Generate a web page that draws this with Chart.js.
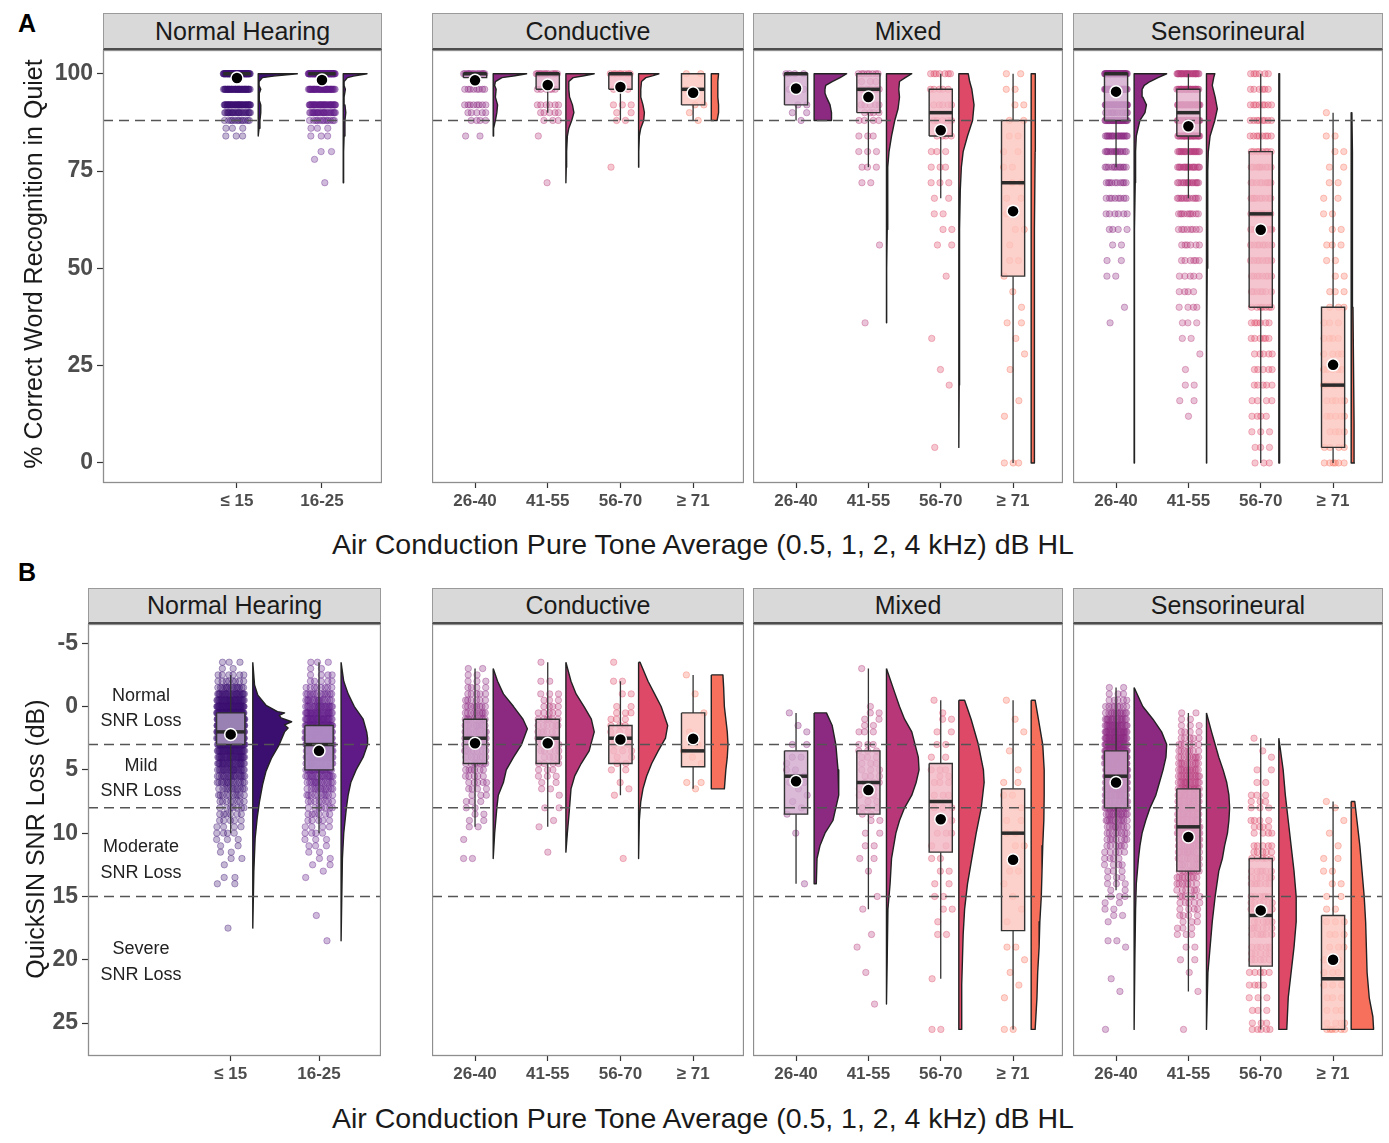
<!DOCTYPE html>
<html><head><meta charset="utf-8">
<script src="https://cdn.jsdelivr.net/npm/chart.js@4.4.0/dist/chart.umd.min.js"></script>
<style>
body{margin:0;background:#fff;width:1389px;height:1143px;position:relative;overflow:hidden;font-family:"Liberation Sans",Arial,Helvetica,sans-serif;}
canvas{position:absolute}
.t{position:absolute;white-space:nowrap;color:#1a1a1a}
.strip{position:absolute;background:#d9d9d9;border:1px solid #9a9a9a;border-bottom:2px solid #4d4d4d;box-sizing:border-box;text-align:center;font-size:25px;color:#1a1a1a}
.band{position:absolute;width:120px;text-align:center;font-size:18px;line-height:20px;color:#222}
</style></head><body>
<script>
// ---------------- DATA ----------------
const nhGroups = ["≤ 15", "16-25"];
const hlGroups = ["26-40", "41-55", "56-70", "≥ 71"];
const nhColors = ["#3b0f70", "#5f1a87"];
const hlColors = ["#8c2981", "#b73779", "#de4968", "#f7705c"];
const wrsTicks = [0, 25, 50, 75, 100];
const snrTicks = [-5, 0, 5, 10, 15, 20, 25];
const wrsCutoffs = [88];
const snrCutoffs = [3, 8, 15];
const snrBandLabels = [["Normal", "SNR Loss"], ["Mild", "SNR Loss"], ["Moderate", "SNR Loss"], ["Severe", "SNR Loss"]];

// Box stats: [lower whisker, Q1, median, Q3, upper whisker, mean]
const wrsNormalBox = [[100,100,100,100,100,98.9],[100,100,100,100,100,98.4]];
const wrsConductiveBox = [[99,99,100,100,100,98.3],[90,96,100,100,100,97.1],[88,96,100,100,100,96.6],[88,92,96,100,100,95.1]];
const wrsMixedBox = [[88,92,100,100,100,96.2],[76,90,96,100,100,94.0],[68,84,90,96,100,85.5],[0,48,72,88,100,64.7]];
const wrsSensoriBox = [[76,88,100,100,100,95.4],[68,84,90,96,100,86.5],[0,40,64,80,100,59.9],[0,4,20,40,90,25.2]];
const snrNormalBox = [[-2.5,0.5,2.0,3.0,10,2.2],[-3.5,1.5,3.0,5.0,10,3.5]];
const snrConductiveBox = [[-3,1,2.5,4.5,9.5,2.9],[-3.5,1,2.5,4.5,9.5,2.9],[-2,1.5,2.5,4.5,7,2.6],[-2.5,0.5,3.5,4.75,6.5,2.55]];
const snrMixedBox = [[0.5,3.5,5.5,8.5,14,5.9],[-3,3.5,6.0,8.5,16,6.6],[-0.5,4.5,7.5,11.5,21.5,8.9],[-0.5,6.5,10,17.7,25.5,12.1]];
const snrSensoriBox = [[-1.5,3.5,5.5,8,14.5,6.0],[0.5,6.5,9.5,13,22.5,10.3],[2.5,12,16.5,20.5,25.5,16.1],[7.5,16.5,21.5,25.5,25.5,20.0]];

// Half-violin profiles: [value, half-width in category units]
const wrsNormalViolin = [
 [[84,0],[86,0.01],[88,0.02],[90,0.03],[92,0.03],[93,0.015],[94,0.01],[95,0.015],[96,0.03],[97,0.01],[98,0.01],[99,0.05],[99.4,0.18],[100,0.46]],
 [[72,0],[76,0.005],[80,0.008],[84,0.01],[88,0.02],[90,0.03],[92,0.02],[94,0.01],[96,0.025],[97,0.01],[98,0.01],[99,0.05],[99.4,0.12],[100,0.28]]];
const wrsConductiveViolin = [
 [[84,0],[86,0.01],[88,0.03],[90,0.05],[92,0.06],[94,0.03],[96,0.04],[97,0.02],[98,0.03],[99,0.12],[99.5,0.3],[100,0.46]],
 [[72,0],[76,0.005],[80,0.01],[84,0.02],[86,0.04],[88,0.08],[90,0.11],[92,0.09],[94,0.05],[96,0.04],[98,0.04],[99,0.1],[99.5,0.25],[100,0.39]],
 [[76,0],[80,0.005],[84,0.01],[86,0.03],[88,0.07],[90,0.08],[92,0.06],[94,0.03],[96,0.03],[98,0.04],[99,0.1],[99.5,0.2],[100,0.28]],
 [[88,0.08],[90,0.1],[92,0.1],[94,0.09],[96,0.09],[98,0.09],[100,0.1]]];
const wrsMixedViolin = [
 [[88,0.24],[90,0.24],[92,0.22],[94,0.17],[95,0.15],[96,0.15],[97,0.16],[98,0.25],[99,0.36],[100,0.45]],
 [[36,0],[50,0.005],[60,0.01],[70,0.015],[76,0.02],[80,0.035],[84,0.07],[88,0.115],[91,0.16],[94,0.18],[96,0.17],[98,0.18],[99,0.26],[100,0.35]],
 [[4,0],[20,0.005],[40,0.008],[60,0.012],[70,0.02],[76,0.035],[80,0.06],[84,0.12],[88,0.19],[92,0.21],[96,0.18],[98,0.15],[100,0.13]],
 [[0,0.04],[20,0.04],[40,0.045],[60,0.05],[80,0.055],[90,0.06],[100,0.055]]];
const wrsSensoriViolin = [
 [[0,0],[20,0.003],[40,0.006],[60,0.01],[72,0.015],[80,0.02],[84,0.03],[88,0.08],[90,0.15],[92,0.17],[94,0.12],[96,0.11],[97,0.14],[98,0.22],[99,0.33],[100,0.45]],
 [[0,0],[12,0.003],[30,0.006],[50,0.01],[65,0.015],[75,0.02],[80,0.025],[84,0.05],[88,0.115],[91,0.15],[94,0.12],[97,0.08],[99,0.1],[100,0.115]],
 [[0,0.01],[50,0.012],[100,0.01]],
 [[0,0.045],[10,0.04],[20,0.035],[40,0.025],[60,0.02],[80,0.015],[90,0.01]]];
const snrNormalViolin = [
 [[-3.5,0],[-1.7,0.02],[-0.9,0.057],[-0.1,0.15],[0.4,0.28],[0.5,0.36],[0.7,0.3],[0.9,0.32],[1.2,0.44],[1.45,0.36],[1.7,0.4],[2,0.36],[3,0.3],[4.1,0.21],[5.1,0.15],[6.2,0.11],[7.5,0.076],[8.8,0.05],[10.4,0.027],[13,0.012],[17.5,0]],
 [[-3.5,0],[-2,0.03],[-1,0.08],[0,0.15],[1,0.25],[2,0.29],[2.5,0.3],[3,0.3],[4,0.25],[5,0.17],[6,0.11],[7,0.08],[8,0.06],[10,0.03],[12,0.015],[15,0.008],[18.5,0]]];
const snrConductiveViolin = [
 [[-3,0],[-2,0.06],[-1,0.14],[0,0.28],[1,0.41],[1.75,0.47],[3,0.39],[4,0.28],[5,0.18],[6,0.14],[7,0.07],[8,0.05],[10,0.02],[12,0]],
 [[-3.5,0],[-2,0.07],[-1,0.14],[0,0.25],[1,0.35],[2,0.39],[3.5,0.32],[4.5,0.21],[5.5,0.12],[6.5,0.07],[8,0.05],[10,0.02],[11.5,0]],
 [[-3.5,0.02],[-2,0.13],[-1,0.22],[0,0.31],[1.5,0.4],[2.5,0.37],[3.5,0.27],[4.5,0.18],[5.5,0.11],[6.5,0.06],[7.5,0.03],[9,0.01],[12,0]],
 [[-2.5,0.16],[-1.5,0.17],[0,0.18],[1,0.2],[2,0.22],[3,0.23],[4,0.22],[5,0.2],[6.5,0.18]]];
const snrMixedViolin = [
 [[0.5,0.17],[1.5,0.25],[3,0.3],[5,0.33],[7,0.34],[8,0.3],[9,0.26],[10,0.15],[11,0.08],[12,0.04],[14,0.03]],
 [[-3,0],[-1,0.12],[0,0.18],[1,0.25],[2,0.35],[4,0.44],[5,0.45],[6,0.41],[7,0.35],[8,0.25],[9,0.18],[10,0.13],[12,0.07],[14,0.05],[16,0.02],[20,0.01],[23.5,0]],
 [[-0.5,0.08],[1,0.17],[3,0.27],[5,0.34],[6,0.35],[8,0.31],[10,0.24],[12,0.18],[14,0.12],[16,0.08],[18,0.06],[20,0.05],[22,0.04],[25.5,0.04]],
 [[-0.5,0.055],[1,0.1],[3,0.16],[5,0.18],[7,0.18],[9,0.175],[11,0.16],[13,0.15],[15,0.14],[17,0.12],[19,0.11],[21,0.09],[23,0.08],[25.5,0.055]]];
const snrSensoriViolin = [
 [[-1.5,0],[0,0.12],[1,0.26],[2,0.38],[3,0.45],[4,0.44],[5,0.4],[6,0.35],[7,0.3],[8,0.22],[9,0.16],[10,0.11],[11,0.08],[12,0.06],[14,0.03],[16,0.02],[20,0.01],[25.5,0]],
 [[0.5,0],[2,0.07],[3,0.12],[4,0.17],[5,0.23],[6,0.28],[7,0.31],[8,0.32],[9,0.31],[10,0.29],[11,0.25],[12,0.22],[13,0.17],[15,0.12],[17,0.08],[19,0.05],[21,0.02],[25.5,0]],
 [[2.5,0],[5,0.06],[7,0.09],[9,0.13],[11,0.17],[13,0.21],[15,0.24],[17,0.24],[19,0.21],[21,0.17],[23,0.13],[25.5,0.11]],
 [[7.5,0.05],[9,0.08],[11,0.12],[13,0.15],[15,0.18],[17,0.2],[19,0.21],[21,0.22],[23,0.25],[24.5,0.3],[25.5,0.31]]];

// Individual scores: [value, number of listeners at that value]
const wrsNormalPoints = [
 [[100,70],[96,45],[92,45],[90,25],[88,12],[86,3],[84,3]],
 [[100,70],[96,40],[92,40],[90,25],[88,12],[86,3],[84,3],[80,2],[78,1],[72,1]]];
const wrsConductivePoints = [
 [[100,15],[96,8],[92,8],[90,5],[88,4],[84,2]],
 [[100,12],[96,6],[92,6],[90,5],[88,3],[84,1],[72,1]],
 [[100,8],[96,4],[92,3],[90,2],[88,2],[76,1]],
 [[100,2],[96,2],[92,2],[90,1],[88,1]]];
const wrsMixedPoints = [
 [[100,4],[96,3],[92,2],[90,2],[88,1]],
 [[100,8],[98,3],[96,5],[92,5],[90,4],[88,4],[84,3],[80,3],[76,3],[72,2],[56,1],[36,1]],
 [[100,7],[96,5],[92,5],[88,5],[84,4],[80,3],[76,3],[72,3],[68,2],[64,2],[60,2],[56,2],[48,1],[32,1],[24,1],[20,1],[4,1]],
 [[100,2],[96,2],[92,2],[88,2],[84,2],[80,2],[76,2],[72,2],[68,2],[64,2],[60,2],[56,1],[52,2],[48,1],[44,1],[40,1],[36,2],[32,1],[28,1],[24,1],[16,1],[12,1],[0,3]]];
const wrsSensoriPoints = [
 [[100,50],[96,40],[92,35],[90,15],[88,30],[84,20],[80,15],[76,12],[72,10],[68,8],[64,6],[60,4],[56,2],[52,2],[48,2],[40,1],[36,1]],
 [[100,25],[96,25],[92,30],[88,30],[84,25],[80,20],[76,18],[72,15],[68,12],[64,10],[60,8],[56,6],[52,6],[48,5],[44,4],[40,4],[36,3],[32,2],[28,1],[24,1],[20,2],[16,2],[12,1]],
 [[100,6],[96,6],[92,8],[88,8],[84,8],[80,8],[76,9],[72,9],[68,9],[64,9],[60,9],[56,8],[52,8],[48,8],[44,7],[40,7],[36,6],[32,6],[28,5],[24,5],[20,5],[16,4],[12,4],[8,3],[4,3],[0,3]],
 [[90,1],[84,2],[80,2],[76,2],[72,2],[68,2],[64,2],[60,2],[56,3],[52,2],[48,2],[44,3],[40,3],[36,3],[32,4],[28,4],[24,5],[20,5],[16,5],[12,5],[8,4],[4,4],[0,6]]];
const snrNormalPoints = [
 [[-3.5,3],[-3,2],[-2.5,6],[-2,8],[-1.5,15],[-1,25],[-0.5,35],[0,45],[0.5,50],[1,55],[1.5,55],[2,50],[2.5,45],[3,40],[3.5,35],[4,30],[4.5,25],[5,22],[5.5,18],[6,15],[6.5,12],[7,10],[7.5,8],[8,7],[8.5,6],[9,5],[9.5,4],[10,4],[10.5,3],[11,2],[11.5,2],[12,2],[12.5,1],[13.5,2],[14,2],[17.5,1]],
 [[-3.5,3],[-3,2],[-2.5,4],[-2,5],[-1.5,8],[-1,12],[-0.5,15],[0,20],[0.5,25],[1,28],[1.5,30],[2,32],[2.5,32],[3,30],[3.5,28],[4,26],[4.5,22],[5,20],[5.5,17],[6,14],[6.5,12],[7,10],[7.5,8],[8,7],[8.5,6],[9,5],[9.5,4],[10,4],[10.5,3],[11,3],[11.5,2],[12,2],[12.5,2],[13,1],[13.5,1],[16.5,1],[18.5,1]]];
const snrConductivePoints = [
 [[-3,2],[-2.5,2],[-2,3],[-1.5,4],[-1,5],[-0.5,6],[0,8],[0.5,9],[1,10],[1.5,11],[2,11],[2.5,10],[3,10],[3.5,9],[4,8],[4.5,7],[5,6],[5.5,5],[6,5],[6.5,4],[7,3],[7.5,3],[8,2],[8.5,2],[9,2],[9.5,2],[10.5,1],[12,2]],
 [[-3.5,1],[-2,2],[-1,3],[-0.5,3],[0,4],[0.5,5],[1,6],[1.5,6],[2,6],[2.5,6],[3,5],[3.5,5],[4,4],[4.5,4],[5,3],[5.5,3],[6,2],[6.5,2],[7,1],[8,2],[9,1],[9.5,1],[11.5,1]],
 [[-3.5,1],[-2,2],[-1,2],[0,2],[0.5,3],[1,3],[1.5,3],[2,3],[2.5,3],[3,3],[3.5,3],[4,2],[4.5,2],[5,2],[6,1],[6.5,1],[7,1],[12,1]],
 [[-2.5,1],[-1,1],[0.5,1],[2,1],[3,1],[3.5,1],[4,1],[4.5,1],[6,2],[6.5,1]]];
const snrMixedPoints = [
 [[0.5,1],[1.5,1],[2,1],[3,2],[4,2],[4.5,1],[5,2],[5.5,2],[6,2],[6.5,1],[7,1],[7.5,1],[8,1],[8.5,1],[10,1],[14,1]],
 [[-3,1],[0,1],[0.5,2],[1,2],[1.5,2],[2,3],[3,3],[3.5,3],[4,3],[4.5,3],[5,3],[5.5,3],[6,3],[6.5,3],[7,3],[7.5,2],[8,3],[8.5,2],[9,2],[10,2],[11,2],[12,2],[13,1],[15,1],[16,1],[18,1],[19,1],[21,1],[23.5,1]],
 [[-0.5,1],[0.5,1],[1,2],[2,2],[3,2],[4,2],[5,3],[5.5,2],[6,3],[7,3],[8,3],[9,2],[10,3],[11,2],[12,2],[13,2],[14,2],[15,2],[16,2],[17,1],[18,2],[21.5,1],[25.5,2]],
 [[-0.5,1],[1,1],[2,1],[3.5,1],[5,1],[6,2],[7,2],[8,1],[9,2],[10,2],[11,2],[12,1],[13,2],[14,1],[15,1],[16,1],[17,1],[19,2],[20,1],[21,1],[22,1],[23,1],[25.5,2]]];
const snrSensoriPoints = [
 [[-1.5,2],[-1,3],[-0.5,5],[0,8],[0.5,12],[1,16],[1.5,20],[2,24],[2.5,26],[3,28],[3.5,28],[4,28],[4.5,27],[5,26],[5.5,25],[6,23],[6.5,21],[7,19],[7.5,17],[8,15],[8.5,13],[9,11],[9.5,9],[10,8],[10.5,7],[11,6],[11.5,5],[12,4],[12.5,4],[13,3],[13.5,3],[14,3],[14.5,2],[15,3],[15.5,2],[16,2],[16.5,2],[17,1],[18.5,2],[19,1],[21.5,1],[22.5,1],[25.5,1]],
 [[0.5,2],[1,2],[1.5,3],[2,4],[2.5,5],[3,6],[3.5,7],[4,9],[4.5,10],[5,12],[5.5,13],[6,14],[6.5,15],[7,16],[7.5,16],[8,16],[8.5,16],[9,16],[9.5,15],[10,15],[10.5,14],[11,13],[11.5,12],[12,11],[12.5,10],[13,9],[13.5,8],[14,7],[14.5,6],[15,6],[15.5,5],[16,4],[16.5,4],[17,3],[17.5,3],[18,3],[19,2],[20,2],[21,1],[22.5,1],[25.5,1]],
 [[2.5,1],[3.5,1],[4,1],[5,2],[6,2],[7,3],[7.5,3],[8,3],[9,4],[9.5,4],[10,4],[11,5],[11.5,5],[12,5],[13,6],[13.5,6],[14,6],[15,6],[15.5,6],[16,7],[17,6],[17.5,6],[18,6],[19,5],[19.5,5],[20,5],[21,5],[22,4],[23,3],[24,3],[25,3],[25.5,5]],
 [[7.5,1],[8,1],[9,1],[10,1],[11,1],[12,2],[13,2],[14,2],[15,2],[16,2],[17,3],[18,3],[19,3],[20,3],[21,3],[22,3],[23,3],[24,3],[25,4],[25.5,6]]];

// ---------------- LAYOUT ----------------
const FONT = '"Liberation Sans", Arial, Helvetica, sans-serif';
const JITTER = 0.16, BOX_HALF = 0.16, VIOLIN_OFFSET = 0.25, X_AXIS_H = 30;

const rowA = {top: 50, bottom: 483, stripTop: 13, ymin: -5.15, ymax: 106.1, reverse: false, ticks: wrsTicks, cutoffs: wrsCutoffs};
const rowB = {top: 624, bottom: 1056, stripTop: 588, ymin: -6.52, ymax: 27.6, reverse: true, ticks: snrTicks, cutoffs: snrCutoffs};

const panels = [
 {row: rowA, title: "Normal Hearing", left: 103, right: 382, axisW: 103, xmin: -0.576, xmax: 2.706, labels: nhGroups, colors: nhColors, box: wrsNormalBox, violin: wrsNormalViolin, points: wrsNormalPoints},
 {row: rowA, title: "Conductive", left: 432, right: 744, axisW: 0, xmin: 0.408, xmax: 4.70, labels: hlGroups, colors: hlColors, box: wrsConductiveBox, violin: wrsConductiveViolin, points: wrsConductivePoints},
 {row: rowA, title: "Mixed", left: 753, right: 1063, axisW: 0, xmin: 0.405, xmax: 4.69, labels: hlGroups, colors: hlColors, box: wrsMixedBox, violin: wrsMixedViolin, points: wrsMixedPoints},
 {row: rowA, title: "Sensorineural", left: 1073, right: 1383, axisW: 0, xmin: 0.405, xmax: 4.69, labels: hlGroups, colors: hlColors, box: wrsSensoriBox, violin: wrsSensoriViolin, points: wrsSensoriPoints},
 {row: rowB, title: "Normal Hearing", left: 88, right: 381, axisW: 88, xmin: -0.616, xmax: 2.702, labels: nhGroups, colors: nhColors, box: snrNormalBox, violin: snrNormalViolin, points: snrNormalPoints},
 {row: rowB, title: "Conductive", left: 432, right: 744, axisW: 0, xmin: 0.408, xmax: 4.70, labels: hlGroups, colors: hlColors, box: snrConductiveBox, violin: snrConductiveViolin, points: snrConductivePoints},
 {row: rowB, title: "Mixed", left: 753, right: 1063, axisW: 0, xmin: 0.405, xmax: 4.69, labels: hlGroups, colors: hlColors, box: snrMixedBox, violin: snrMixedViolin, points: snrMixedPoints},
 {row: rowB, title: "Sensorineural", left: 1073, right: 1383, axisW: 0, xmin: 0.405, xmax: 4.69, labels: hlGroups, colors: hlColors, box: snrSensoriBox, violin: snrSensoriViolin, points: snrSensoriPoints}
];

function hexRgb(h){ const n = parseInt(h.slice(1), 16); return [(n >> 16) & 255, (n >> 8) & 255, n & 255]; }
function rgba(h, a){ const [r,g,b] = hexRgb(h); return `rgba(${r},${g},${b},${a})`; }
function tint(h, k, a){ const [r,g,b] = hexRgb(h).map(c => Math.round(c * k + 255 * (1 - k))); return `rgba(${r},${g},${b},${a})`; }

function jitterPoints(rows, cat){
  const out = [];
  rows.forEach(([v, n], r) => {
    for (let k = 0; k < n; k++) {
      const f = ((k * 0.618034 + r * 0.377 + 0.21) % 1) - 0.5;
      out.push({x: cat + f * 2 * JITTER, y: v});
    }
  });
  return out;
}
function violinShape(prof, cat){
  const x0 = cat + VIOLIN_OFFSET;
  const pts = [{x: x0, y: prof[0][0]}];
  prof.forEach(([v, w]) => pts.push({x: x0 + w, y: v}));
  pts.push({x: x0, y: prof[prof.length - 1][0]});
  pts.push({x: x0, y: prof[0][0]});
  return pts;
}
function lineDs(data, opts){
  return Object.assign({showLine: true, pointRadius: 0, pointHoverRadius: 0, borderWidth: 1.3,
    borderColor: '#333', fill: false, tension: 0, data}, opts);
}
function noPad(s){ s.paddingTop = 0; s.paddingBottom = 0; s.paddingLeft = 0; s.paddingRight = 0; }

const frame = {id: 'frame', afterDraw(chart){
  const {ctx, chartArea: a} = chart;
  ctx.save(); ctx.strokeStyle = '#8e8e8e'; ctx.lineWidth = 1.3;
  ctx.strokeRect(a.left + 0.5, a.top + 0.5, a.right - a.left - 1, a.bottom - a.top - 1);
  ctx.restore();
}};

function buildPanel(p){
  const row = p.row;
  const strip = document.createElement('div');
  strip.className = 'strip';
  strip.style.left = p.left + 'px'; strip.style.top = row.stripTop + 'px';
  strip.style.width = (p.right - p.left) + 'px'; strip.style.height = (row.top - row.stripTop) + 'px';
  strip.style.lineHeight = (row.top - row.stripTop - 3) + 'px';
  strip.textContent = p.title;
  document.body.appendChild(strip);

  const canvas = document.createElement('canvas');
  const w = p.right - p.left + p.axisW, h = row.bottom - row.top + X_AXIS_H;
  canvas.width = w; canvas.height = h;
  canvas.style.left = (p.left - p.axisW) + 'px'; canvas.style.top = row.top + 'px';
  canvas.style.width = w + 'px'; canvas.style.height = h + 'px';
  document.body.appendChild(canvas);

  const ds = [];
  p.labels.forEach((lab, i) => {
    const cat = i + 1, c = p.colors[i];
    const [lo, q1, med, q3, hi, mean] = p.box[i];
    ds.push({label: lab, data: jitterPoints(p.points[i], cat), pointRadius: 3.2, pointHoverRadius: 3.2,
      backgroundColor: rgba(c, 0.3), borderColor: rgba(c, 0.45), borderWidth: 0.8, order: 10});
    ds.push(lineDs([{x: cat, y: lo}, {x: cat, y: q1}], {order: 9}));
    ds.push(lineDs([{x: cat, y: q3}, {x: cat, y: hi}], {order: 9}));
    ds.push(lineDs([{x: cat - BOX_HALF, y: q1}, {x: cat + BOX_HALF, y: q1}, {x: cat + BOX_HALF, y: q3},
      {x: cat - BOX_HALF, y: q3}, {x: cat - BOX_HALF, y: q1}],
      {fill: 'shape', backgroundColor: tint(c, 0.4, 0.8), borderWidth: 1.4, order: 8}));
    ds.push(lineDs([{x: cat - BOX_HALF, y: med}, {x: cat + BOX_HALF, y: med}],
      {borderWidth: 3.5, borderColor: '#2b2b2b', borderCapStyle: 'butt', order: 7}));
    ds.push(lineDs(violinShape(p.violin[i], cat),
      {fill: 'shape', backgroundColor: c, borderColor: '#222', borderWidth: 1.4, borderJoinStyle: 'round', order: 6}));
    ds.push({data: [{x: cat, y: mean}], pointRadius: 6, pointHoverRadius: 6, backgroundColor: '#000',
      borderColor: '#fff', borderWidth: 1.5, order: 0});
  });
  row.cutoffs.forEach(t => ds.push(lineDs([{x: p.xmin, y: t}, {x: p.xmax, y: t}],
    {borderDash: [10, 6], borderColor: '#555', borderWidth: 1.5, order: 1})));

  new Chart(canvas, {
    type: 'scatter',
    data: {datasets: ds},
    options: {
      responsive: false, animation: false, events: [],
      layout: {padding: 0, autoPadding: false},
      plugins: {legend: {display: false}, tooltip: {enabled: false}},
      scales: {
        x: {type: 'linear', min: p.xmin, max: p.xmax,
          afterBuildTicks: s => { s.ticks = p.labels.map((_, i) => ({value: i + 1})); },
          afterFit: s => { s.height = X_AXIS_H; noPad(s); },
          ticks: {callback: (v, i) => p.labels[i], font: {family: FONT, size: 17, weight: 'bold'},
            color: '#4d4d4d', padding: 3, maxRotation: 0, autoSkip: false},
          grid: {drawOnChartArea: false, drawTicks: true, tickLength: 5, tickColor: '#333', tickWidth: 1.2},
          border: {display: false}},
        y: {type: 'linear', display: p.axisW > 0, min: row.ymin, max: row.ymax, reverse: row.reverse,
          afterBuildTicks: s => { s.ticks = row.ticks.map(v => ({value: v})); },
          afterFit: s => { s.width = p.axisW; noPad(s); },
          ticks: {font: {family: FONT, size: 23, weight: 'bold'}, color: '#4d4d4d', padding: 4},
          grid: {drawOnChartArea: false, drawTicks: true, tickLength: 6, tickColor: '#333', tickWidth: 1.2},
          border: {display: false}}
      }
    },
    plugins: [frame]
  });
}
panels.forEach(buildPanel);

// ---------------- TEXT ----------------
function addText(txt, css){ const d = document.createElement('div'); d.className = 't'; d.textContent = txt; Object.assign(d.style, css); document.body.appendChild(d); return d; }
addText('A', {left: '18px', top: '11px', fontSize: '25px', fontWeight: 'bold', lineHeight: '25px', color: '#000'});
addText('B', {left: '18px', top: '560px', fontSize: '25px', fontWeight: 'bold', lineHeight: '25px', color: '#000'});
const xTitle = 'Air Conduction Pure Tone Average (0.5, 1, 2, 4 kHz) dB HL';
[530, 1104].forEach(top => addText(xTitle, {left: '203px', width: '1000px', textAlign: 'center', top: top + 'px', fontSize: '28.5px', lineHeight: '28px'}));
addText('% Correct Word Recognition in Quiet', {left: (33 - 300) + 'px', top: (264 - 15) + 'px', width: '600px', textAlign: 'center', fontSize: '25px', lineHeight: '30px', transform: 'rotate(-90deg)'});
addText('QuickSIN SNR Loss (dB)', {left: (35 - 300) + 'px', top: (839 - 15) + 'px', width: '600px', textAlign: 'center', fontSize: '25px', lineHeight: '30px', transform: 'rotate(-90deg)'});
const bandCenters = [[695, 720], [765, 790], [846, 872], [948, 974]];
snrBandLabels.forEach((lines, i) => lines.forEach((ln, j) => {
  const d = document.createElement('div'); d.className = 'band'; d.textContent = ln;
  d.style.left = (141 - 60) + 'px'; d.style.top = (bandCenters[i][j] - 10) + 'px';
  document.body.appendChild(d);
}));
</script>
</body></html>
